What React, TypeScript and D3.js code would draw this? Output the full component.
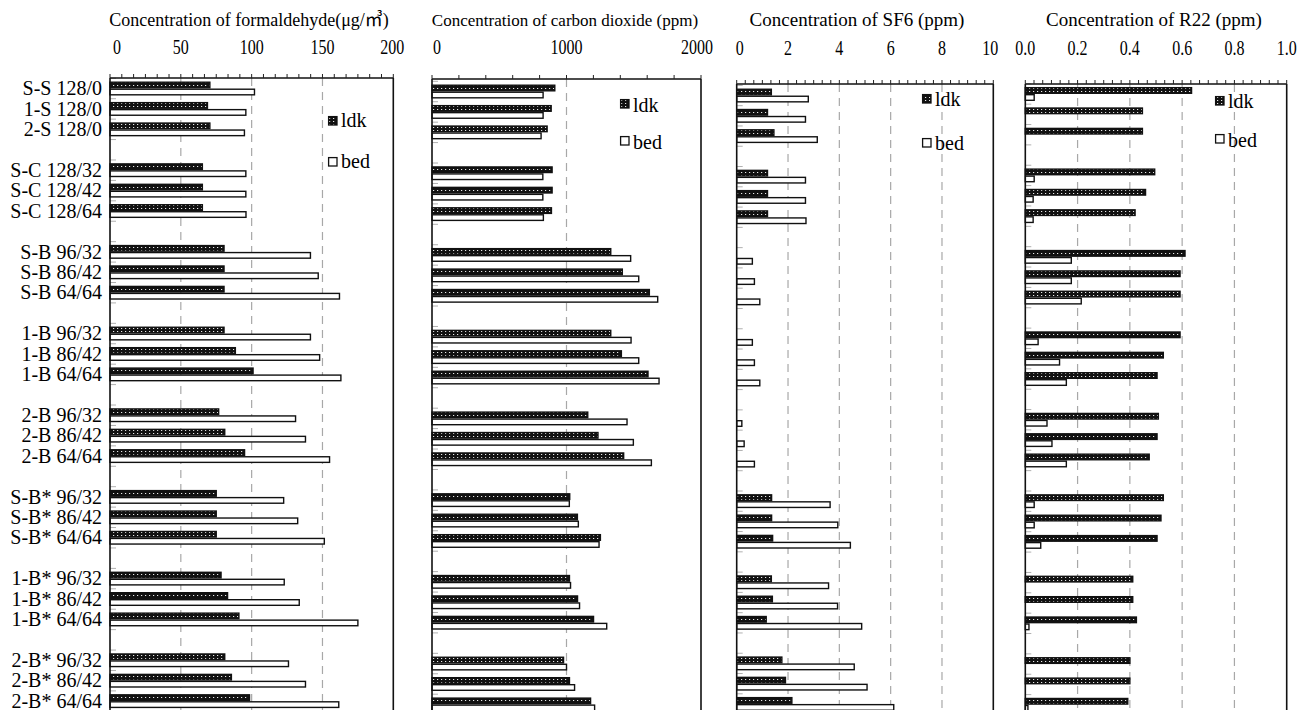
import React from "react";
import * as d3 from "d3";

const categories = [
  "S-S 128/0", "1-S 128/0", "2-S 128/0",
  "S-C 128/32", "S-C 128/42", "S-C 128/64",
  "S-B 96/32", "S-B 86/42", "S-B 64/64",
  "1-B 96/32", "1-B 86/42", "1-B 64/64",
  "2-B 96/32", "2-B 86/42", "2-B 64/64",
  "S-B* 96/32", "S-B* 86/42", "S-B* 64/64",
  "1-B* 96/32", "1-B* 86/42", "1-B* 64/64",
  "2-B* 96/32", "2-B* 86/42", "2-B* 64/64",
];

const seriesNames = ["ldk", "bed"];

const formaldehydeLdk = [70.5, 68.8, 70.5, 65.2, 65.2, 65.2, 80.5, 80.5, 80.5, 80.5, 88.5, 101, 76.7, 81, 95, 75, 75, 75, 78.4, 83, 91, 81, 85.7, 98.5];
const formaldehydeBed = [102, 95.9, 94.9, 95.9, 95.9, 96, 141.5, 147, 162, 141.5, 148, 163, 131, 138, 155, 122.6, 132.5, 151.3, 123, 133.6, 175, 126, 138, 161.5];

const co2Ldk = [913, 886, 856, 893, 893, 888, 1329, 1415, 1616, 1329, 1408, 1606, 1158, 1234, 1425, 1024, 1081, 1252, 1022, 1082, 1201, 978, 1022, 1179];
const co2Bed = [826, 826, 811, 824, 824, 828, 1477, 1537, 1678, 1480, 1537, 1688, 1450, 1497, 1631, 1021, 1088, 1242, 1030, 1097, 1299, 1000, 1060, 1209];

const sf6Ldk = [1.35, 1.2, 1.45, 1.2, 1.2, 1.2, 0, 0, 0, 0, 0, 0, 0, 0, 0, 1.36, 1.36, 1.4, 1.35, 1.39, 1.15, 1.76, 1.9, 2.15];
const sf6Bed = [2.79, 2.68, 3.14, 2.68, 2.68, 2.7, 0.61, 0.69, 0.9, 0.61, 0.69, 0.9, 0.2, 0.29, 0.69, 3.64, 3.94, 4.43, 3.58, 3.93, 4.87, 4.58, 5.08, 6.12];

const r22Ldk = [0.636, 0.448, 0.448, 0.495, 0.46, 0.42, 0.611, 0.592, 0.592, 0.592, 0.528, 0.504, 0.509, 0.504, 0.474, 0.528, 0.519, 0.504, 0.411, 0.411, 0.425, 0.4, 0.4, 0.392];
const r22Bed = [0.034, 0, 0, 0.034, 0.03, 0.03, 0.176, 0.176, 0.214, 0.049, 0.131, 0.157, 0.083, 0.102, 0.157, 0.034, 0.034, 0.059, 0, 0, 0.014, 0, 0, 0.01];

const formaldehydeTicks = [0, 50, 100, 150, 200];
const co2Ticks = [0, 1000, 2000];
const sf6Ticks = [0, 2, 4, 6, 8, 10];
const r22Ticks = [0, 0.2, 0.4, 0.6, 0.8, 1.0];

const panels = [
  {
    key: "form", title: "Concentration of formaldehyde(μg/㎥)", titleSize: 18,
    ldk: formaldehydeLdk, bed: formaldehydeBed, domain: [0, 200], ticks: formaldehydeTicks, fmt: (v: number) => String(v),
    minor: 50 / 6, x0: 110, x1: 393.3, frameTop: 78, rowTop: 78.3, step: 20.42,
    firstShift: 7, lastShift: -1, labelY: 54, titleX: 249,
    legendX: 328, legendY: [116, 157], legendTextY: [127, 168],
  },
  {
    key: "co2", title: "Concentration of carbon dioxide (ppm)", titleSize: 17,
    ldk: co2Ldk, bed: co2Bed, domain: [0, 2000], ticks: co2Ticks, fmt: (v: number) => String(v),
    minor: 200, x0: 432, x1: 701, frameTop: 79, rowTop: 81.3, step: 20.43,
    firstShift: 5, lastShift: -4, labelY: 54, titleX: 565,
    legendX: 620, legendY: [99, 136], legendTextY: [111.5, 148.5],
  },
  {
    key: "sf6", title: "Concentration of SF6 (ppm)", titleSize: 19,
    ldk: sf6Ldk, bed: sf6Bed, domain: [0, 10], ticks: sf6Ticks, fmt: (v: number) => String(v),
    minor: 1 / 3, x0: 736.7, x1: 993.3, frameTop: 84, rowTop: 85.4, step: 20.28,
    firstShift: 3, lastShift: -3, labelY: 55, titleX: 857,
    legendX: 922, legendY: [94, 138], legendTextY: [106, 150],
  },
  {
    key: "r22", title: "Concentration of R22 (ppm)", titleSize: 19,
    ldk: r22Ldk, bed: r22Bed, domain: [0, 1], ticks: r22Ticks, fmt: (v: number) => v.toFixed(1),
    minor: 0.2 / 6, x0: 1025.3, x1: 1286.7, frameTop: 84, rowTop: 83.8, step: 20.36,
    firstShift: 0, lastShift: 0, labelY: 55, titleX: 1154,
    legendX: 1215, legendY: [96, 134], legendTextY: [108, 146.5],
  },
];

const FONT = "'Liberation Serif', 'Times New Roman', 'Noto Sans CJK JP', serif";
const W = 1298;
const H = 710;
const NSLOTS = 32;

function slotOf(i: number) {
  return i + Math.floor(i / 3);
}

function Panel({ p }: { p: (typeof panels)[number] }) {
  const x = d3.scaleLinear().domain(p.domain).range([p.x0, p.x1]);
  const y = d3.scaleBand<number>().domain(d3.range(NSLOTS)).range([p.rowTop, p.rowTop + NSLOTS * p.step]).padding(0);
  const bnd = (i: number) => (y(slotOf(i)) as number) + y.bandwidth() / 2;
  const bottom = p.rowTop + NSLOTS * p.step;
  const nMinor = Math.round((p.domain[1] - p.domain[0]) / p.minor);
  const minorTicks = d3.range(nMinor + 1).map((k) => p.domain[0] + k * p.minor);
  const grid = p.ticks.slice(1, -1);
  const barH = 7;
  const sw = 1.4;
  const lastIdx = p.ticks.length - 1;
  return (
    <g>
      <text x={p.titleX} y={26} textAnchor="middle" fontSize={p.titleSize} fontFamily={FONT}>
        {p.title}
      </text>
      {p.ticks.map((t, k) => {
        const lx = x(t) + (k === 0 ? p.firstShift : 0) + (k === lastIdx ? p.lastShift : 0);
        return (
          <text key={"tl" + t} transform={`translate(${lx},${p.labelY}) scale(0.8,1)`} textAnchor="middle" fontSize={20} fontFamily={FONT}>
            {p.fmt(t)}
          </text>
        );
      })}
      {grid.map((t) => (
        <line key={"g" + t} x1={x(t)} x2={x(t)} y1={p.frameTop} y2={bottom} stroke="#a8a8a8" strokeWidth={1.2} strokeDasharray="8,6" />
      ))}
      {d3.range(NSLOTS + 1).map((s) => (
        <line key={"ct" + s} x1={p.x0} x2={p.x0 + 6} y1={p.rowTop + s * p.step} y2={p.rowTop + s * p.step} stroke="#b0b0b0" strokeWidth={1} />
      ))}
      {categories.map((c, i) => {
        const b = bnd(i);
        const vl = p.ldk[i];
        const vb = p.bed[i];
        return (
          <g key={c}>
            {vl > 0 ? (
              <rect x={x(0)} y={b - barH + sw / 2} width={x(vl) - x(0)} height={barH - sw} fill="url(#dots)" stroke="#111" strokeWidth={sw} />
            ) : null}
            {vb > 0 ? (
              <rect x={x(0)} y={b + sw / 2} width={x(vb) - x(0)} height={barH - sw} fill="#fff" stroke="#111" strokeWidth={sw} />
            ) : null}
          </g>
        );
      })}
      <line x1={p.x0} x2={p.x1} y1={p.frameTop} y2={p.frameTop} stroke="#111" strokeWidth={1.5} />
      <line x1={p.x0} x2={p.x0} y1={p.frameTop} y2={bottom} stroke="#111" strokeWidth={1.6} />
      <line x1={p.x1} x2={p.x1} y1={p.frameTop} y2={bottom} stroke="#111" strokeWidth={1.6} />
      {minorTicks.map((t, k) => (
        <line key={"mt" + k} x1={x(t)} x2={x(t)} y1={p.frameTop - 4} y2={p.frameTop} stroke="#222" strokeWidth={1} />
      ))}
      {seriesNames.map((s, k) => (
        <g key={s}>
          <rect x={p.legendX + 0.6} y={p.legendY[k] + 0.6} width={8.4} height={8.4} fill={k === 0 ? "url(#dots)" : "#fff"} stroke="#111" strokeWidth={1.3} />
          <text x={p.legendX + 13} y={p.legendTextY[k]} fontSize={20} fontFamily={FONT}>{s}</text>
        </g>
      ))}
    </g>
  );
}

export default function App() {
  const yLab = d3.scaleBand<number>().domain(d3.range(NSLOTS)).range([78.3, 78.3 + NSLOTS * 20.42]);
  return (
    <svg width={W} height={H} style={{ position: "absolute", left: 0, top: 0, background: "#fff" }}>
      <defs>
        <pattern id="dots" patternUnits="userSpaceOnUse" width={4} height={3}>
          <rect width={4} height={3} fill="#111" />
          <rect x={1} y={1} width={1.2} height={1} fill="#e8e8e8" />
        </pattern>
      </defs>
      <rect width={W} height={H} fill="#fff" />
      {categories.map((c, i) => (
        <text key={c} x={102} y={(yLab(slotOf(i)) as number) + yLab.bandwidth() / 2 + 6.7} textAnchor="end" fontSize={20} fontFamily={FONT}>
          {c}
        </text>
      ))}
      {panels.map((p) => (
        <Panel key={p.key} p={p} />
      ))}
    </svg>
  );
}
